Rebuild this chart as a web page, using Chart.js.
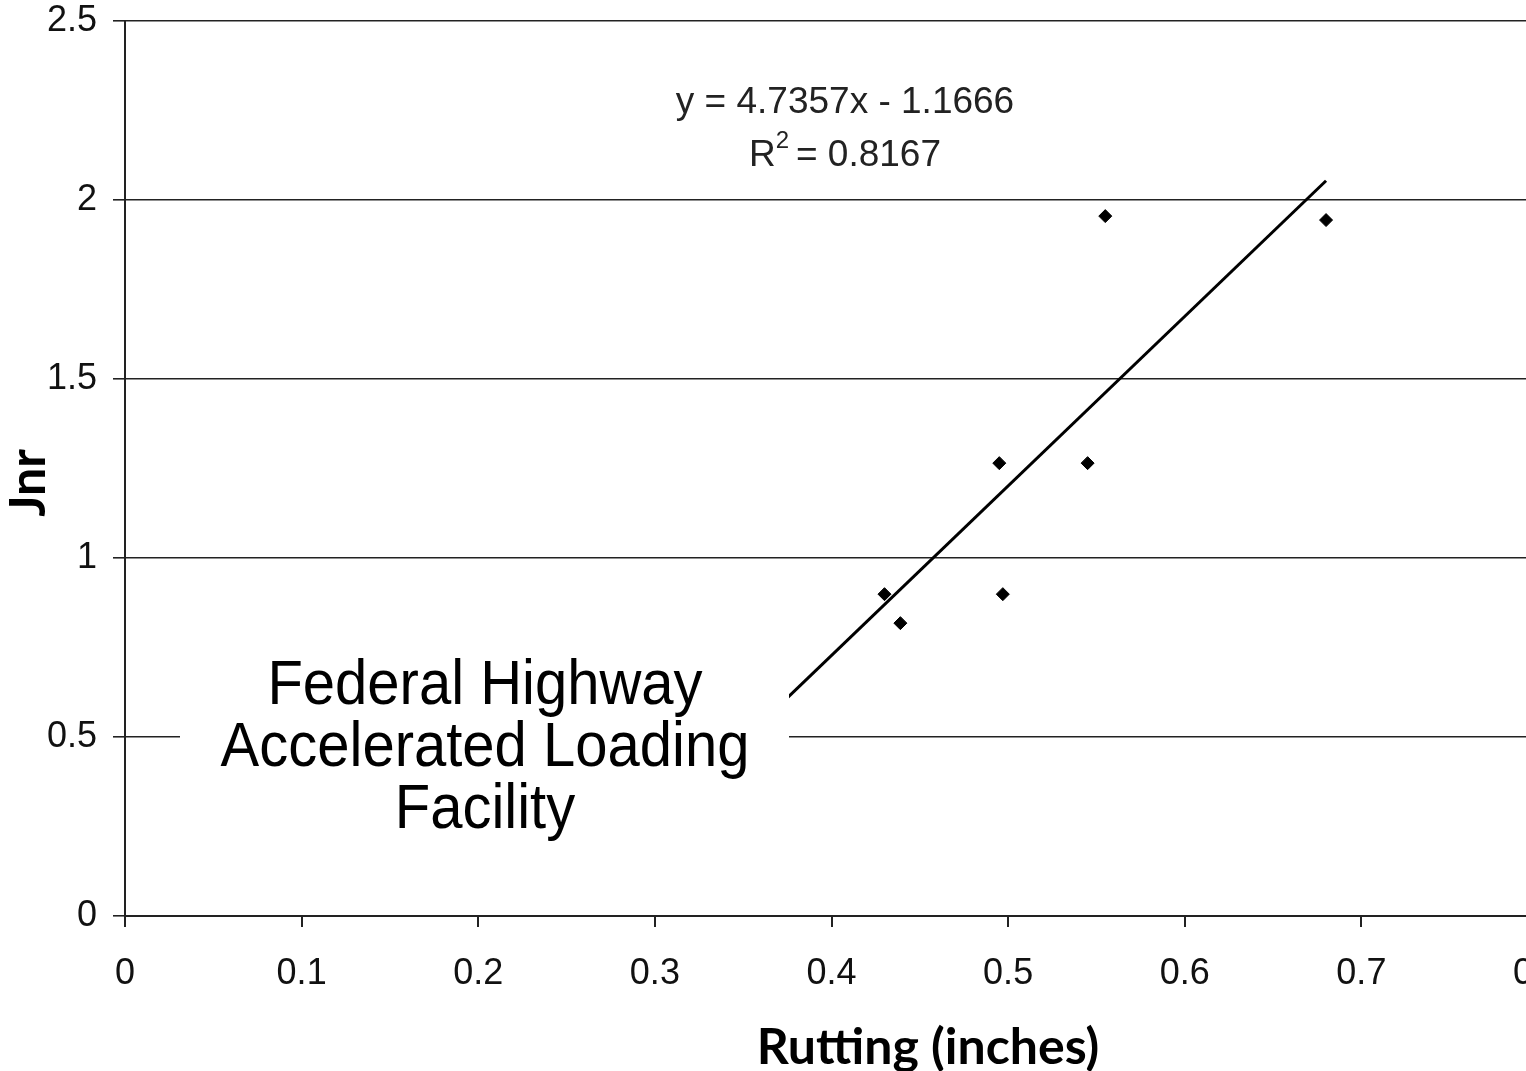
<!DOCTYPE html>
<html lang="en">
<head>
  <meta charset="UTF-8">
  <title>Jnr vs Rutting</title>
  <script src="https://cdn.jsdelivr.net/npm/chart.js"></script>
  <style>
    html, body {
      margin: 0;
      padding: 0;
      background: #fff;
      overflow: hidden;
    }
    #wrap {
      position: absolute;
      left: 0;
      top: 0;
      width: 1600px;
      height: 1071px;
    }
  </style>
</head>
<body>
  <div id="wrap">
    <canvas id="chart" width="1600" height="1071"></canvas>
  </div>

  <script>
    // measured points
    const rutting = [0.430, 0.439, 0.495, 0.497, 0.545, 0.555, 0.680];
    const jnr = [0.899, 0.818, 1.265, 0.899, 1.265, 1.955, 1.944];

    // trendline as printed on the chart
    const slope = 4.7357;
    const intercept = -1.1666;
    const trendX = [0.33, 0.68];

    const xTicks = [0, 0.1, 0.2, 0.3, 0.4, 0.5, 0.6, 0.7, 0.8];
    const yTicks = [0, 0.5, 1, 1.5, 2, 2.5];

    const xTitle = "Rutting (inches)";
    const yTitle = "Jnr";
    const eqLine = "y = 4.7357x - 1.1666";
    const r2Value = "0.8167";
    const noteLines = ["Federal Highway", "Accelerated Loading", "Facility"];

    const points = rutting.map((x, i) => ({ x, y: jnr[i] }));
    const trend = trendX.map(x => ({ x, y: slope * x + intercept }));

    const tickFont = { family: "'Liberation Sans', Arial, sans-serif", size: 36 };
    const lineColor = "#222";

    const overlay = {
      id: "overlay",
      afterDatasetsDraw(chart) {
        const ctx = chart.ctx;
        ctx.save();
        // white box over the lower part of the plot
        ctx.fillStyle = "#fff";
        ctx.fillRect(180, 652, 609, 196);

        ctx.fillStyle = "#000";
        ctx.textAlign = "center";
        ctx.textBaseline = "middle";
        ctx.font = "58px 'Liberation Sans', Arial, sans-serif";
        noteLines.forEach((t, i) => {
          ctx.save();
          ctx.translate(485, 687 + i * 62);
          ctx.scale(1, 1.09);
          ctx.fillText(t, 0, 0);
          ctx.restore();
        });

        // regression label
        ctx.font = "37px 'Liberation Sans', Arial, sans-serif";
        ctx.fillStyle = "#222";
        ctx.fillText(eqLine, 845, 103);
        const rest = " = " + r2Value;
        const wR = ctx.measureText("R").width;
        const wRest = ctx.measureText(rest).width;
        const start = 845 - (wR + 10 + wRest) / 2;
        ctx.textAlign = "left";
        ctx.fillText("R", start, 156);
        ctx.font = "24px 'Liberation Sans', Arial, sans-serif";
        ctx.fillText("2", start + wR, 141);
        ctx.font = "37px 'Liberation Sans', Arial, sans-serif";
        ctx.fillText(rest, start + wR + 10, 156);

        // axis titles
        ctx.fillStyle = "#000";
        ctx.textAlign = "center";
        ctx.font = "bold 50px Lato, 'Open Sans', sans-serif";
        ctx.fillText(xTitle, 928, 1048);
        ctx.translate(29, 483);
        ctx.rotate(-Math.PI / 2);
        ctx.fillText(yTitle, 0, 0);
        ctx.restore();
      }
    };

    new Chart(document.getElementById("chart"), {
      type: "scatter",
      data: {
        datasets: [
          {
            type: "line",
            data: trend,
            borderColor: "#000",
            borderWidth: 3,
            pointRadius: 0,
            fill: false,
            order: 2
          },
          {
            data: points,
            pointStyle: "rectRot",
            pointRadius: 6.5,
            backgroundColor: "#000",
            borderColor: "#000",
            borderWidth: 1,
            order: 1
          }
        ]
      },
      options: {
        responsive: false,
        animation: false,
        layout: { padding: { left: 0, top: 21, right: 62, bottom: 0 } },
        plugins: {
          legend: { display: false },
          tooltip: { enabled: false }
        },
        scales: {
          x: {
            type: "linear",
            min: 0,
            max: 0.8,
            afterFit(scale) {
              scale.height = 155;
              scale.paddingLeft = 0;
              scale.paddingRight = 0;
            },
            afterBuildTicks(scale) { scale.ticks = xTicks.map(v => ({ value: v })); },
            border: { display: true, color: lineColor, width: 2 },
            grid: {
              drawOnChartArea: false,
              drawTicks: true,
              tickLength: 11,
              color: lineColor,
              lineWidth: 2
            },
            ticks: {
              font: tickFont,
              color: "#111",
              padding: 25,
              maxRotation: 0,
              autoSkip: false,
              callback: v => String(v)
            }
          },
          y: {
            type: "linear",
            min: 0,
            max: 2.5,
            afterFit(scale) {
              scale.width = 125;
              scale.paddingTop = 0;
              scale.paddingBottom = 0;
            },
            afterBuildTicks(scale) { scale.ticks = yTicks.map(v => ({ value: v })); },
            border: { display: true, color: lineColor, width: 2 },
            grid: {
              drawOnChartArea: true,
              drawTicks: true,
              tickLength: 12,
              color: lineColor,
              lineWidth: 1.6
            },
            ticks: {
              font: tickFont,
              color: "#111",
              padding: 16,
              callback: v => String(v)
            }
          }
        }
      },
      plugins: [overlay]
    });
  </script>
</body>
</html>
